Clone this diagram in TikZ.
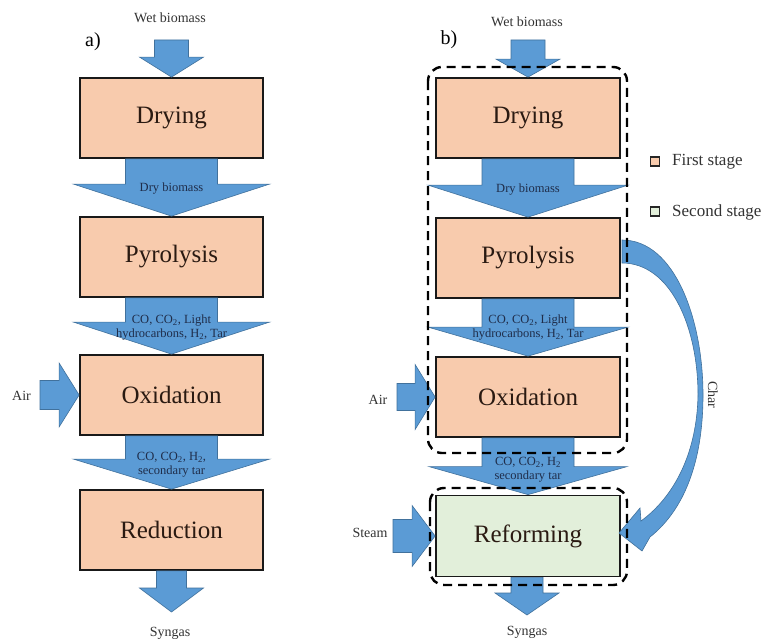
\documentclass[tikz,border=0pt]{standalone}
\usepackage{fontspec}
\setmainfont{Liberation Serif}
\usetikzlibrary{calc}
\definecolor{peach}{HTML}{F8CBAD}
\definecolor{pale}{HTML}{E2EFDA}
\definecolor{ablue}{HTML}{5B9BD5}
\definecolor{ablueline}{HTML}{41719C}
\definecolor{navytext}{HTML}{1F2D4A}
\definecolor{boxtext}{HTML}{2A1A12}
\definecolor{outtext}{HTML}{333333}
\newcommand\blkdown[5]{%
  \path[blk] let \p1=(#1), \p2=(#2) in
  (\x2-#3,\y1) -- (\x2+#3,\y1) -- (\x2+#3,\y2+#5) -- (\x2+#4,\y2+#5) -- (\x2,\y2)
  -- (\x2-#4,\y2+#5) -- (\x2-#3,\y2+#5) -- cycle;}
\newcommand\blkright[5]{%
  \path[blk] let \p1=(#1), \p2=(#2) in
  (\x1,\y2+#3) -- (\x2-#5,\y2+#3) -- (\x2-#5,\y2+#4) -- (\x2,\y2) -- (\x2-#5,\y2-#4)
  -- (\x2-#5,\y2-#3) -- (\x1,\y2-#3) -- cycle;}
\begin{document}
\begin{tikzpicture}[x=1pt,y=-1pt,
  stagebox/.style={draw=black!90, line width=1.8pt, minimum width=183pt, minimum height=80pt,
    inner sep=0pt, text=boxtext, font=\fontsize{25}{28}\selectfont},
  firstbox/.style={stagebox, fill=peach},
  secondbox/.style={stagebox, fill=pale},
  blk/.style={fill=ablue, draw=ablueline, line width=0.6pt, line join=miter},
  arrtext/.style={text=navytext, font=\fontsize{12.5}{14}\selectfont, align=center, inner sep=0pt},
  outlabel/.style={text=outtext, font=\fontsize{14}{16}\selectfont, inner sep=0pt},
  group/.style={draw=black, line width=2.4pt, dash pattern=on 9pt off 6pt, rounded corners=14pt},
  legsq/.style={draw=black!85, line width=1.2pt, minimum size=9pt, inner sep=0pt},
  legtext/.style={text=outtext, font=\fontsize{17}{19}\selectfont, anchor=west, inner sep=0pt}]
\useasboundingbox (0,0) rectangle (767,642);
\fill[white] (0,0) rectangle (767,642);

% ---------------- panel a ----------------
\node[outlabel, font=\fontsize{20}{22}\selectfont, text=black] (la) at (93,42) {a)};
\node[firstbox] (dryA) at (171.5,118) {Drying};
\node[firstbox] (pyrA) at (171.5,257) {Pyrolysis};
\node[firstbox] (oxiA) at (171.5,395) {Oxidation};
\node[firstbox] (redA) at (171.5,530) {Reduction};
\coordinate (wbA) at (171.5,40);
\coordinate (sgA) at (171.5,612);
\coordinate (airA) at (40,395);

\blkdown{wbA}{dryA.north}{17pt}{32pt}{20pt}
\blkdown{dryA.south}{pyrA.north}{46pt}{98pt}{32pt}
\blkdown{pyrA.south}{oxiA.north}{46pt}{98pt}{32pt}
\blkdown{oxiA.south}{redA.north}{46pt}{98pt}{30pt}
\blkdown{redA.south}{sgA}{15pt}{32pt}{24pt}
\blkright{airA}{oxiA.west}{14.5pt}{32pt}{20pt}

\node[outlabel] (twbA) at (170,18) {Wet biomass};
\node[arrtext] (tdbA) at (171.5,189) {Dry biomass};
\node[arrtext] (tg1A) at (171.5,327.5) {CO, CO\textsubscript{2}, Light\\hydrocarbons, H\textsubscript{2}, Tar};
\node[arrtext] (tg2A) at (171.5,464.5) {CO, CO\textsubscript{2}, H\textsubscript{2},\\secondary tar};
\node[outlabel] (tsgA) at (170,633) {Syngas};
\node[outlabel] (tairA) at (21.5,396) {Air};

% ---------------- panel b ----------------
\node[outlabel, font=\fontsize{20}{22}\selectfont, text=black] (lb) at (449,40) {b)};
\node[firstbox, minimum width=184pt] (dryB) at (528,118) {Drying};
\node[firstbox, minimum width=184pt] (pyrB) at (528,258) {Pyrolysis};
\node[firstbox, minimum width=184pt] (oxiB) at (528,397) {Oxidation};
\node[secondbox, minimum width=184pt, minimum height=81pt] (refB) at (528,536) {Reforming};
\coordinate (wbB) at (527,40);
\coordinate (sgB) at (527,615);
\coordinate (airB) at (397,397);
\coordinate (stB) at (393,533);

% char curved arrow
\path[blk] (622,240) .. controls (675,240) and (703,320) .. (703,395)
  .. controls (703,462) and (684,510) .. (650,537)
  -- (642,551) -- (619,533) -- (640,508) -- (641,521)
  .. controls (675,496) and (697,452) .. (698,395)
  .. controls (698,326) and (670,263) .. (622,263) -- cycle;
\coordinate (charS) at (pyrB.east);

\blkdown{wbB}{dryB.north}{17pt}{32pt}{18pt}
\blkdown{dryB.south}{pyrB.north}{46pt}{100pt}{32pt}
\blkdown{pyrB.south}{oxiB.north}{46pt}{100pt}{29pt}
\blkdown{oxiB.south}{refB.north}{46pt}{99pt}{28pt}
\blkdown{refB.south}{sgB}{16pt}{32pt}{22pt}
\blkright{airB}{oxiB.west}{13.5pt}{32.5pt}{20pt}
\blkright{stB}{refB.west}{16.5pt}{30.5pt}{23pt}

\node[outlabel] (twbB) at (527,22) {Wet biomass};
\node[arrtext] (tdbB) at (528,190) {Dry biomass};
\node[arrtext] (tg1B) at (528,327.5) {CO, CO\textsubscript{2}, Light\\hydrocarbons, H\textsubscript{2}, Tar};
\node[arrtext] (tg2B) at (528,470) {CO, CO\textsubscript{2}, H\textsubscript{2}\\secondary tar};
\node[outlabel] (tsgB) at (527,632) {Syngas};
\node[outlabel] (tairB) at (378,400) {Air};
\node[outlabel] (tstB) at (370,533) {Steam};
\node[outlabel, rotate=-90] (tchar) at (713,395) {Char};

% stage groups
\draw[group] (428,67) rectangle (627,453);
\draw[group] (430,488) rectangle (627,585);

% legend
\node[legsq, fill=peach] (lg1) at (655,161.5) {};
\node[legtext] (lt1) at (672,162) {First stage};
\node[legsq, fill=pale] (lg2) at (655,211.5) {};
\node[legtext] (lt2) at (672,212) {Second stage};
\end{tikzpicture}
\end{document}
